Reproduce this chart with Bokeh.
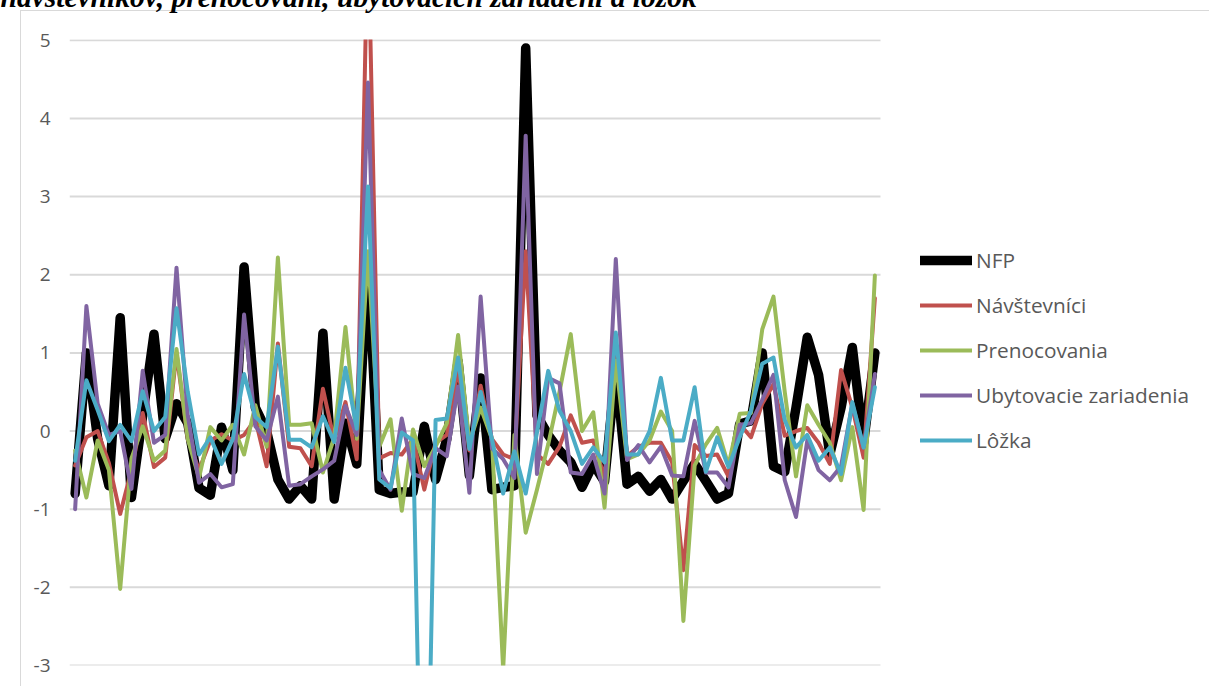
from bokeh.plotting import figure
from bokeh.models import Range1d, FixedTicker, Legend, LegendItem, Label
from bokeh.embed import file_html
from bokeh.resources import INLINE

periods = list(range(72))

nfp = [-0.8, 1.0, -0.1, -0.7, 1.45, -0.85, 0.2, 1.24, -0.1, 0.35,
       0.1, -0.73, -0.82, 0.05, -0.5, 2.1, 0.3, 0.0, -0.62, -0.87,
       -0.7, -0.87, 1.25, -0.87, 0.1, -0.42, 2.2, -0.75, -0.8, -0.78,
       -0.78, 0.06, -0.62, -0.1, 0.89, -0.57, 0.68, -0.75, -0.72, -0.7,
       4.9, 0.2, -0.05, -0.25, -0.4, -0.72, -0.42, -0.65, 0.8, -0.68,
       -0.58, -0.77, -0.62, -0.87, -0.64, -0.42, -0.64, -0.87, -0.8, 0.09,
       0.13, 1.0, -0.45, -0.52, 0.3, 1.2, 0.72, -0.3, 0.3, 1.07,
       -0.15, 1.0]

navstevnici = [-0.44, -0.08, 0.0, -0.41, -1.06, -0.5, 0.23, -0.46, -0.34, 1.0,
               -0.1, -0.5, -0.12, -0.04, -0.12, -0.05, 0.15, -0.45, 1.12, -0.2,
               -0.22, -0.45, 0.54, -0.12, 0.37, -0.36, 6.5, -0.35, -0.28, -0.3,
               -0.1, -0.75, -0.15, -0.05, 0.8, -0.25, 0.58, -0.1, -0.3, -0.36,
               2.3, -0.3, -0.42, -0.2, 0.2, -0.15, -0.12, -0.6, 1.0, -0.32,
               -0.2, -0.15, -0.15, -0.4, -1.78, -0.18, -0.32, -0.3, -0.58, 0.09,
               -0.08, 0.35, 0.6, -0.06, 0.0, 0.04, -0.15, -0.42, 0.78, 0.3,
               -0.34, 1.7]

prenocovania = [-0.25, -0.85, -0.12, -0.5, -2.02, -0.35, 0.06, -0.38, -0.25, 1.05,
                -0.1, -0.6, 0.05, -0.12, 0.08, -0.3, 0.33, -0.2, 2.22, 0.08,
                0.08, 0.1, -0.53, -0.08, 1.33, -0.1, 2.3, -0.2, 0.15, -1.02,
                0.02, -0.45, -0.2, 0.1, 1.23, -0.15, 0.3, -0.1, -3.05, -0.05,
                -1.3, -0.75, -0.17, 0.5, 1.24, 0.0, 0.24, -0.98, 0.9, -0.36,
                -0.3, -0.12, 0.25, 0.0, -2.43, -0.44, -0.17, 0.04, -0.44, 0.22,
                0.23, 1.3, 1.72, 0.5, -0.58, 0.33, 0.08, -0.15, -0.63, 0.05,
                -1.01, 1.99]

ubytovacie = [-1.0, 1.6, 0.35, -0.05, 0.0, -0.74, 0.77, -0.15, -0.05, 2.09,
              0.2, -0.66, -0.55, -0.72, -0.68, 1.49, 0.06, -0.12, 0.44, -0.7,
              -0.68, -0.58, -0.49, -0.38, 0.32, -0.05, 4.46, -0.5, -0.75, 0.16,
              -0.55, -0.6, -0.22, -0.32, 0.57, -0.79, 1.72, -0.22, -0.36, -0.6,
              3.78, -0.55, 0.68, 0.61, -0.53, -0.55, -0.3, -0.8, 2.2, -0.37,
              -0.18, -0.4, -0.2, -0.57, -0.58, 0.13, -0.53, -0.53, -0.72, 0.08,
              0.1, 0.4, 0.72, -0.63, -1.1, -0.12, -0.5, -0.63, -0.45, 0.35,
              -0.21, 0.73]

lozka = [-0.38, 0.65, 0.27, -0.13, 0.08, -0.13, 0.51, 0.0, 0.18, 1.57,
         0.5, -0.3, -0.08, -0.42, -0.1, 0.73, 0.18, 0.05, 1.08, -0.11,
         -0.11, -0.21, 0.19, -0.14, 0.81, 0.03, 3.13, -0.62, -0.73, -0.02,
         -0.12, -7.0, 0.14, 0.16, 0.94, -0.23, 0.5, -0.1, -0.8, -0.26,
         -0.8, -0.02, 0.77, 0.26, 0.0, -0.42, -0.21, -0.4, 1.26, -0.3,
         -0.3, 0.0, 0.68, -0.12, -0.12, 0.56, -0.52, -0.08, -0.46, -0.08,
         0.26, 0.86, 0.94, 0.14, -0.21, -0.05, -0.38, -0.21, -0.55, 0.37,
         -0.21, 0.56]

series_names = ["NFP", "Návštevníci", "Prenocovania", "Ubytovacie zariadenia", "Lôžka"]
y_ticks = [-3, -2, -1, 0, 1, 2, 3, 4, 5]
y_tick_labels = {-3: "-3", -2: "-2", -1: "-1", 0: "0", 1: "1", 2: "2", 3: "3", 4: "4", 5: "5"}
title_text = "návštevníkov, prenocovaní, ubytovacích zariadení a lôžok"

colors = ["#000000", "#C0504D", "#9BBB59", "#8064A2", "#4BACC6"]
widths = [9.5, 4, 4, 4, 4]

n = len(periods)
x_start = -0.5
x_end_grid = n - 0.5
# plot area is 811 px for the categories, frame continues to the right edge for the legend
x_end_frame = x_start + 1140 * n / 811

p = figure(width=1209, height=686, output_backend="svg", toolbar_location=None,
           x_range=Range1d(x_start, x_end_frame), y_range=Range1d(-3, 5.01),
           min_border_left=69, min_border_right=0, min_border_top=39, min_border_bottom=21)
p.outline_line_color = None
p.background_fill_color = None
p.border_fill_color = None
p.styles = {
    "background": ("linear-gradient(#D9D9D9, #D9D9D9) 20px 10px / 1px calc(100% - 10px) no-repeat, "
                   "linear-gradient(#D9D9D9, #D9D9D9) 20px 10px / calc(100% - 20px) 1px no-repeat, "
                   "#ffffff")
}

p.xaxis.visible = False
p.xgrid.visible = False
p.ygrid.visible = False
p.yaxis.ticker = FixedTicker(ticks=y_ticks)
p.yaxis.major_label_overrides = y_tick_labels
p.yaxis.axis_line_color = None
p.yaxis.major_tick_line_color = None
p.yaxis.minor_tick_line_color = None
p.yaxis.major_tick_out = 0
p.yaxis.major_tick_in = 0
p.yaxis.major_label_standoff = 19
p.yaxis.major_label_text_font = "Open Sans"
p.yaxis.major_label_text_font_size = "19px"
p.yaxis.major_label_text_color = "#595959"

# horizontal gridlines across the category area only
p.segment(x0=[x_start] * len(y_ticks), x1=[x_end_grid] * len(y_ticks),
          y0=y_ticks, y1=y_ticks, line_color="#D9D9D9", line_width=2)

datasets = [nfp, navstevnici, prenocovania, ubytovacie, lozka]
items = []
for name, vals, col, w in zip(series_names, datasets, colors, widths):
    r = p.line(periods, vals, line_color=col, line_width=w,
               line_join="round", line_cap="round")
    items.append(LegendItem(label=name, renderers=[r]))

legend = Legend(items=items, location=(851, 211),
                glyph_width=52, glyph_height=20, label_height=20,
                label_standoff=4, spacing=17, padding=0, margin=0,
                border_line_color=None, background_fill_alpha=0,
                label_text_font="Open Sans", label_text_font_size="20.8px",
                label_text_color="#595959")
p.add_layout(legend)

title = Label(x=0, y=-4, x_units="canvas", y_units="canvas", text=title_text,
              text_font="Liberation Serif", text_font_style="bold italic",
              text_font_size="29.5px", text_color="#000000",
              text_baseline="alphabetic", text_align="left")
p.add_layout(title, "above")

open("out.html", "w").write(file_html(p, INLINE))
